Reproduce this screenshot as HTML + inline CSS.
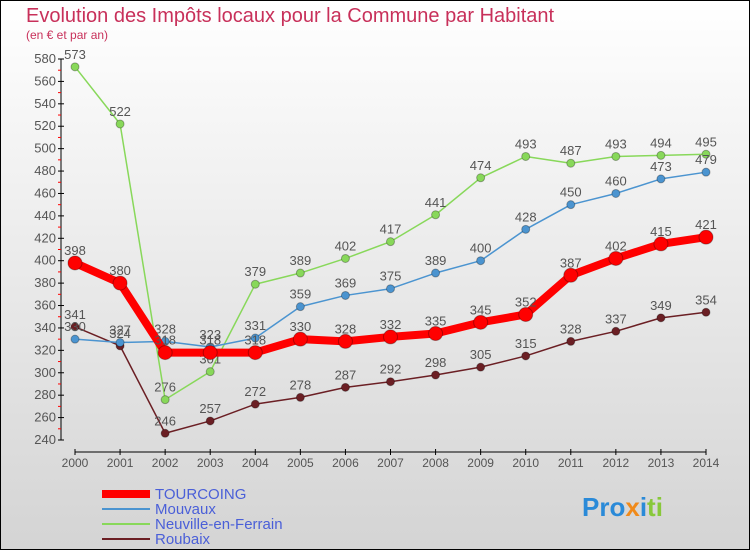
<!DOCTYPE html>
<html><head><meta charset="utf-8"><style>
body{margin:0}
#c{width:750px;height:550px;position:relative;overflow:hidden;font-family:"Liberation Sans","DejaVu Sans",sans-serif}
</style></head><body>
<div id="c">
<svg id="s" width="750" height="550" xmlns="http://www.w3.org/2000/svg">
<defs><linearGradient id="bg" x1="0" y1="0" x2="0" y2="1"><stop offset="0" stop-color="#ffffff"/><stop offset="1" stop-color="#d4d4d4"/></linearGradient></defs>
<rect x="0.5" y="0.5" width="749" height="549" fill="url(#bg)" stroke="#000"/>
<text x="26" y="22" font-size="20" fill="#c8305a">Evolution des Impôts locaux pour la Commune par Habitant</text>
<text x="26" y="39" font-size="12" fill="#c8305a">(en € et par an)</text>
<g id="plot"></g>
<g>
<line x1="102" y1="494" x2="150" y2="494" stroke="#f00" stroke-width="8"/>
<text x="155" y="499" font-size="15" fill="#4a5fd8">TOURCOING</text>
<line x1="102" y1="509" x2="150" y2="509" stroke="#4b94d0" stroke-width="2"/>
<text x="155" y="514" font-size="15" fill="#4a5fd8">Mouvaux</text>
<line x1="102" y1="524" x2="150" y2="524" stroke="#88d85a" stroke-width="2"/>
<text x="155" y="529" font-size="15" fill="#4a5fd8">Neuville-en-Ferrain</text>
<line x1="102" y1="539" x2="150" y2="539" stroke="#6b1f24" stroke-width="2"/>
<text x="155" y="544" font-size="15" fill="#4a5fd8">Roubaix</text>
</g>
<text x="582" y="516" font-size="26" font-weight="bold"><tspan fill="#2a8ad8">Pro</tspan><tspan fill="#f08a1a">x</tspan><tspan fill="#2a8ad8">i</tspan><tspan fill="#88c83a">ti</tspan></text>
</svg>
</div>
<script>
const years=[2000,2001,2002,2003,2004,2005,2006,2007,2008,2009,2010,2011,2012,2013,2014];
const tourcoing=[398,380,318,318,318,330,328,332,335,345,352,387,402,415,421];
const mouvaux=[330,327,328,323,331,359,369,375,389,400,428,450,460,473,479];
const neuville=[573,522,276,301,379,389,402,417,441,474,493,487,493,494,495];
const roubaix=[341,324,246,257,272,278,287,292,298,305,315,328,337,349,354];
const yTicks=[240,260,280,300,320,340,360,380,400,420,440,460,480,500,520,540,560,580];
const NS="http://www.w3.org/2000/svg";
const g=document.getElementById('plot');
const X=i=>75+i*(706-75)/(years.length-1);
const Y=v=>440-(v-240)*(381/340);
function mk(t,a,p){const e=document.createElementNS(NS,t);for(const k in a)e.setAttribute(k,a[k]);(p||g).appendChild(e);return e;}
const ax=mk('g',{});


mk('line',{x1:61,y1:Y(580),x2:61,y2:Y(240),stroke:'#000','stroke-width':1},ax);
mk('line',{x1:75,y1:452,x2:706,y2:452,stroke:'#000','stroke-width':1},ax);
yTicks.forEach(v=>{mk('line',{x1:58,y1:Y(v),x2:64,y2:Y(v),stroke:'#000'},ax);
 if(v<580)mk('line',{x1:58,y1:Y(v+10),x2:61,y2:Y(v+10),stroke:'#f00'},ax);
 const t=mk('text',{x:56,y:Y(v)+4,'font-size':13,fill:'#555','text-anchor':'end'},ax);t.textContent=v;});
years.forEach((y,i)=>{mk('line',{x1:X(i),y1:449,x2:X(i),y2:455,stroke:'#000'},ax);
 const t=mk('text',{x:X(i),y:467,'font-size':12,fill:'#555','text-anchor':'middle'},ax);t.textContent=y;});
function series(name,d,col,w,r){
 const s=mk('g',{});
 
 
 mk('polyline',{points:d.map((v,i)=>X(i)+','+Y(v)).join(' '),fill:'none',stroke:col,'stroke-width':w,'stroke-linejoin':'round'},s);
 d.forEach((v,i)=>{mk('circle',{cx:X(i),cy:Y(v),r:r,fill:col,stroke:'rgba(0,0,0,0.3)','stroke-width':1},s);
  const t=mk('text',{x:X(i),y:Y(v)-8,'font-size':13,fill:'#555','text-anchor':'middle'},s);t.textContent=v;});
}
series('series-roubaix',roubaix,'#6b1f24',1.5,4);
series('series-neuville',neuville,'#88d85a',1.5,4);
series('series-mouvaux',mouvaux,'#4b94d0',1.5,4);
series('series-tourcoing',tourcoing,'#f00',8,7);
</script>
</body></html>
